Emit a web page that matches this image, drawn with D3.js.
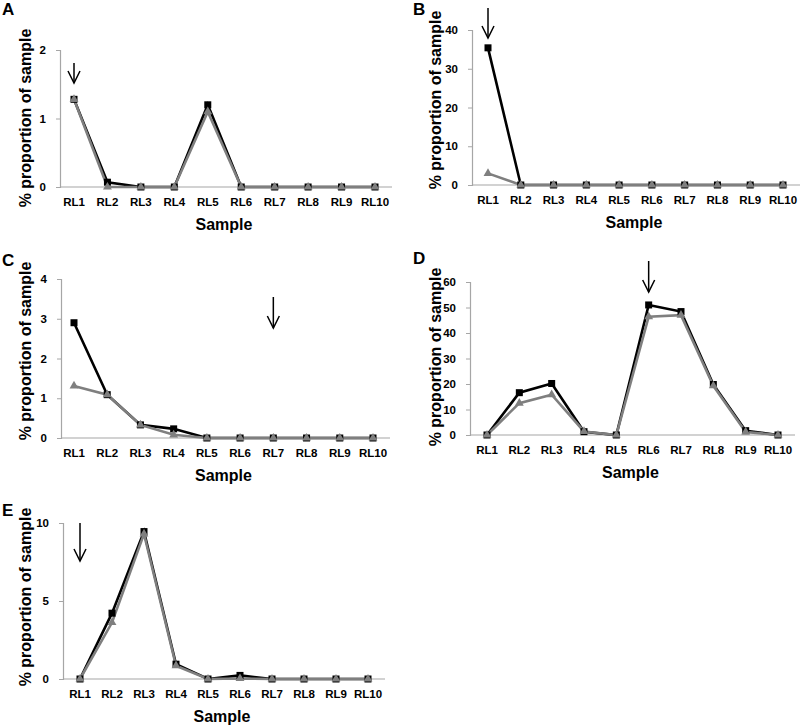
<!DOCTYPE html>
<html><head><meta charset="utf-8">
<script src="https://cdn.jsdelivr.net/npm/d3@7"></script>
<style>body{margin:0;background:#fff}svg{display:block}text{font-family:"Liberation Sans",Arial,sans-serif;font-weight:bold}</style>
</head><body>
<svg id="c" width="800" height="725"></svg>
<script>
const categories = ["RL1","RL2","RL3","RL4","RL5","RL6","RL7","RL8","RL9","RL10"];
const panelLabels = ["A","B","C","D","E"];
const yTicksA = [0,1,2], yTicksB = [0,10,20,30,40], yTicksC = [0,1,2,3,4], yTicksD = [0,10,20,30,40,50,60], yTicksE = [0,5,10];
const blackA = [1.28,0.07,0,0,1.20,0,0,0,0,0];
const grayA  = [1.28,0,0,0,1.10,0,0,0,0,0];
const blackB = [35.4,0,0,0,0,0,0,0,0,0];
const grayB  = [3.0,0,0,0,0,0,0,0,0,0];
const blackC = [2.9,1.09,0.33,0.23,0,0,0,0,0,0];
const grayC  = [1.31,1.09,0.33,0.08,0,0,0,0,0,0];
const blackD = [0,16.6,20.2,1.3,0,51.0,48.4,19.8,1.7,0];
const grayD  = [0,12.5,15.8,1.4,0,46.4,47.0,19.3,1.2,0];
const blackE = [0,4.22,9.45,0.95,0,0.23,0,0,0,0];
const grayE  = [0,3.62,9.3,0.85,0,0.03,0,0,0,0];
const arrowIndex = [0,0,6,5,0];

const panels = [
 {black:blackA, gray:grayA, ticks:yTicksA, max:2,  ax:60,  axEnd:392, x1:74,  x10:375, y0:187, yTop:50,  arrowY:[63,83],  label:[2,15],   titleX:31,  titleY:118},
 {black:blackB, gray:grayB, ticks:yTicksB, max:40, ax:472, axEnd:800, x1:488, x10:783, y0:185, yTop:30,  arrowY:[8,38],   label:[413,15], titleX:441, titleY:100},
 {black:blackC, gray:grayC, ticks:yTicksC, max:4,  ax:61,  axEnd:390, x1:74,  x10:373, y0:438, yTop:279, arrowY:[297,328],label:[2,266],  titleX:31,  titleY:351},
 {black:blackD, gray:grayD, ticks:yTicksD, max:60, ax:470, axEnd:795, x1:487, x10:778, y0:435, yTop:282, arrowY:[261,292],label:[413,264],titleX:441, titleY:357},
 {black:blackE, gray:grayE, ticks:yTicksE, max:10, ax:63,  axEnd:385, x1:80,  x10:368, y0:679, yTop:523, arrowY:[523,561],label:[2,516],  titleX:31,  titleY:597}
];

const svg = d3.select("#c");

panels.forEach((p,i)=>{
  const g = svg.append("g");
  const x = d3.scalePoint().domain(categories).range([p.x1,p.x10]);
  const y = d3.scaleLinear().domain([0,p.max]).range([p.y0,p.yTop]);

  const ya = g.append("g").attr("transform",`translate(${p.ax},0)`)
    .call(d3.axisLeft(y).tickValues(p.ticks).tickSize(4).tickPadding(10).tickFormat(d3.format("d")));
  ya.select(".domain").attr("stroke","#a6a6a6").attr("stroke-width",1.2);
  ya.selectAll(".tick line").attr("stroke","#a6a6a6");
  ya.selectAll("text").attr("font-size",11.5).attr("fill","#000").style("font-family","Liberation Sans, Arial").style("font-weight","bold");

  g.append("line").attr("x1",p.ax).attr("x2",p.axEnd).attr("y1",p.y0).attr("y2",p.y0)
    .attr("stroke","#a6a6a6").attr("stroke-width",1.2);
  g.selectAll(".xl").data(categories).enter().append("text")
    .attr("x",d=>x(d)).attr("y",p.y0+19).attr("text-anchor","middle")
    .attr("font-size",11.5).attr("fill","#000").text(d=>d);

  g.append("text").attr("x",(p.ax+p.axEnd)/2-2).attr("y",p.y0+43).attr("text-anchor","middle")
    .attr("font-size",16).text("Sample");
  g.append("text").attr("transform",`translate(${p.titleX},${p.titleY}) rotate(-90)`)
    .attr("text-anchor","middle").attr("font-size",16).text("% proportion of sample");
  g.append("text").attr("x",p.label[0]).attr("y",p.label[1]).attr("font-size",17).text(panelLabels[i]);

  const line = d3.line().x((d,j)=>x(categories[j])).y(d=>y(d));
  g.append("path").datum(p.black).attr("d",line).attr("fill","none").attr("stroke","#000").attr("stroke-width",2.6);
  g.append("path").datum(p.gray).attr("d",line).attr("fill","none").attr("stroke","#7f7f7f").attr("stroke-width",2.6);
  g.selectAll(".sq").data(p.black).enter().append("rect")
    .attr("x",(d,j)=>x(categories[j])-3.5).attr("y",d=>y(d)-3.5).attr("width",7).attr("height",7).attr("fill","#000");
  const tri = d3.symbol().type(d3.symbolTriangle).size(34);
  g.selectAll(".tr").data(p.gray).enter().append("path")
    .attr("d",tri).attr("transform",(d,j)=>`translate(${x(categories[j])},${y(d)})`).attr("fill","#7f7f7f");

  const axp = x(categories[arrowIndex[i]]);
  g.append("line").attr("x1",axp).attr("x2",axp).attr("y1",p.arrowY[0]).attr("y2",p.arrowY[1]).attr("stroke","#000").attr("stroke-width",1.5);
  g.append("path").attr("d",`M${axp-6},${p.arrowY[1]-12}L${axp},${p.arrowY[1]}L${axp+6},${p.arrowY[1]-12}`)
    .attr("fill","none").attr("stroke","#000").attr("stroke-width",1.5);
});
</script>
</body></html>
